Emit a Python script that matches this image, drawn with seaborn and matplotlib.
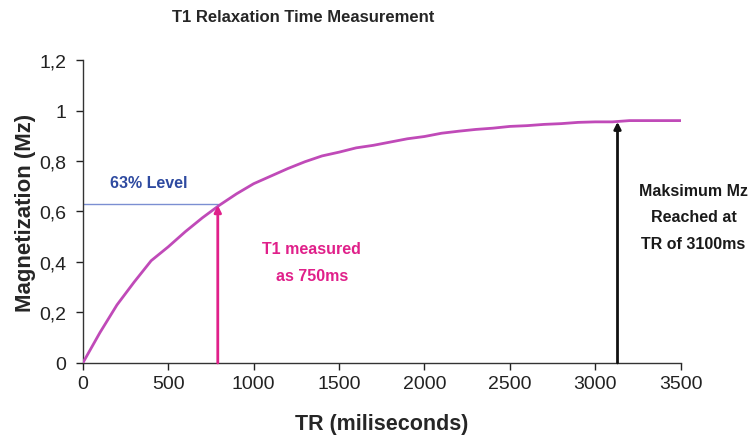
import numpy as np
import pandas as pd
import matplotlib
matplotlib.use('Agg')
import matplotlib.pyplot as plt
import seaborn as sns

# values
tr_ms = [0, 100, 200, 300, 400, 500, 600, 700, 800, 900, 1000, 1100, 1200,
         1300, 1400, 1500, 1600, 1700, 1800, 1900, 2000, 2100, 2200, 2300,
         2400, 2500, 2600, 2700, 2800, 2900, 3000, 3100, 3200, 3300, 3400, 3500]
mz = [0, 0.12, 0.23, 0.32, 0.405, 0.46, 0.52, 0.575, 0.625, 0.67, 0.71, 0.74,
      0.77, 0.797, 0.82, 0.835, 0.852, 0.862, 0.875, 0.888, 0.897, 0.91, 0.918,
      0.925, 0.93, 0.937, 0.94, 0.945, 0.948, 0.953, 0.955, 0.955, 0.96, 0.96,
      0.96, 0.96]

level_63 = 0.628
t1_ms = 790
t1_mz = 0.625
max_ms = 3130
max_mz = 0.955

xticks = [0, 500, 1000, 1500, 2000, 2500, 3000, 3500]
yticks = [0, 0.2, 0.4, 0.6, 0.8, 1.0, 1.2]
ytick_labels = ['0', '0,2', '0,4', '0,6', '0,8', '1', '1,2']

df = pd.DataFrame({'TR': tr_ms, 'Mz': mz})

sns.set_style('ticks')
plt.rcParams['font.family'] = ['Liberation Sans', 'DejaVu Sans']

fig = plt.figure(figsize=(7.53, 4.39), dpi=100)
ax = fig.add_axes([0.110, 0.171, 0.794, 0.690])

# 63% level line
ax.plot([0, t1_ms], [level_63, level_63], color='#7b8fd2', lw=1.0, zorder=2)

sns.lineplot(data=df, x='TR', y='Mz', color='#c04ab8', lw=2.0, ax=ax, zorder=3)

# arrows
ax.annotate('', xy=(t1_ms, t1_mz), xytext=(t1_ms, 0),
            arrowprops=dict(arrowstyle='-|>', color='#e0208a', lw=2.0,
                            mutation_scale=10, shrinkA=0, shrinkB=0), zorder=4)
ax.annotate('', xy=(max_ms, max_mz), xytext=(max_ms, 0),
            arrowprops=dict(arrowstyle='-|>', color='#111111', lw=2.0,
                            mutation_scale=10, shrinkA=0, shrinkB=0), zorder=4)

ax.text(160, 0.715, '63% Level', color='#2e4aa0', fontsize=11.5,
        fontweight='bold', ha='left', va='center')
ax.text(1340, 0.40, 'T1 measured\nas 750ms', color='#e0208a', fontsize=11.5,
        fontweight='bold', ha='center', va='center', linespacing=2.0)
ax.text(3575, 0.579, 'Maksimum Mz\nReached at\nTR of 3100ms', color='#1a1a1a',
        fontsize=11.5, fontweight='bold', ha='center', va='center', linespacing=1.95)

ax.set_xlim(0, 3500)
ax.set_ylim(0, 1.2)
ax.set_xticks(xticks)
ax.set_yticks(yticks)
ax.set_yticklabels(ytick_labels)
ax.tick_params(labelsize=14, length=5, width=1, colors='#222222')
ax.tick_params(axis='y', pad=7)
ax.set_xlabel('TR (miliseconds)', fontsize=15.5, fontweight='bold', labelpad=15)
ax.set_ylabel('Magnetization (Mz)', fontsize=16, fontweight='bold', labelpad=2)
for s in ['left', 'bottom']:
    ax.spines[s].set_color('#333333')
    ax.spines[s].set_linewidth(1.0)
sns.despine(ax=ax)

fig.text(0.403, 0.959, 'T1 Relaxation Time Measurement', fontsize=12,
         fontweight='bold', ha='center', va='center')

fig.savefig('out.png', dpi=100)
